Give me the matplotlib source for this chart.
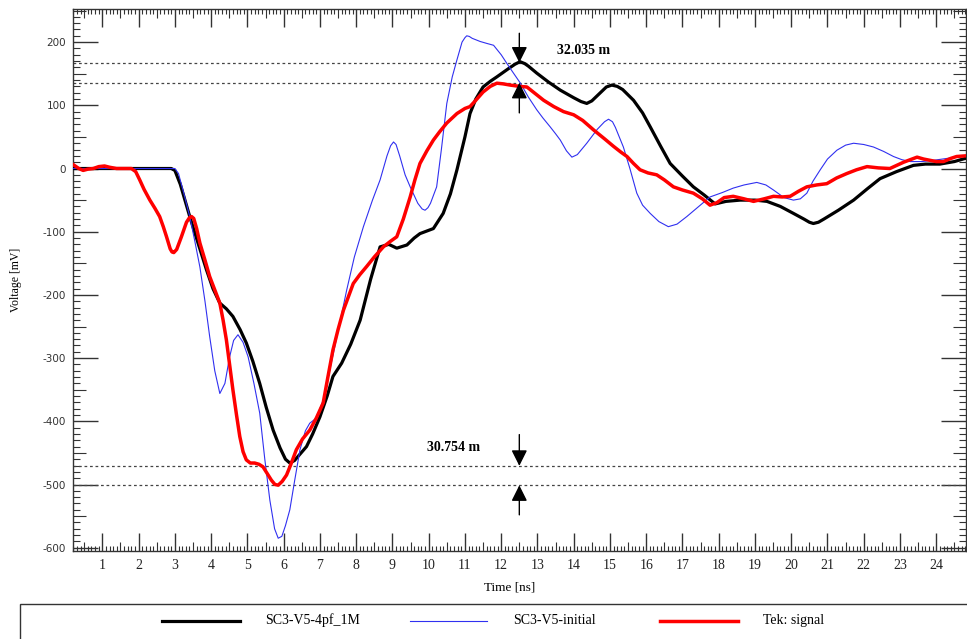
import matplotlib
matplotlib.use("Agg")
import matplotlib.pyplot as plt
from matplotlib.ticker import MultipleLocator
from matplotlib.patches import Rectangle
from matplotlib.lines import Line2D

plt.rcParams["axes.unicode_minus"] = False

# ---------------- data ----------------
t_black = [0.2, 1.0, 2.0, 2.9, 3.0, 3.15, 3.41, 3.65, 3.87, 4.05, 4.24, 4.42, 4.6, 4.8, 4.97,
           5.15, 5.34, 5.52, 5.71, 5.9, 6.05, 6.17, 6.3, 6.45, 6.63, 6.8, 7.0, 7.2, 7.36, 7.6,
           7.85, 8.11, 8.4, 8.66, 8.9, 9.12, 9.4, 9.6, 9.76, 10.13, 10.4, 10.6, 10.78, 11.0,
           11.14, 11.3, 11.5, 11.7, 11.88, 12.2, 12.38, 12.52, 12.65, 12.75, 12.98, 13.3, 13.63,
           14.0, 14.2, 14.36, 14.5, 14.7, 14.9, 15.05, 15.2, 15.35, 15.65, 15.9, 16.11, 16.4,
           16.66, 17.0, 17.3, 17.6, 17.9, 18.2, 18.59, 19.0, 19.33, 19.7, 20.06, 20.35, 20.5,
           20.61, 20.75, 20.9, 21.3, 21.72, 22.1, 22.45, 22.9, 23.37, 23.7, 24.1, 24.5, 24.8]
v_black = [0, 0, 0, 0, -3, -25, -76, -120, -160, -190, -213, -222, -234, -255, -276,
           -305, -340, -378, -414, -442, -460, -466, -462, -452, -440, -420, -393, -360, -329, -308,
           -278, -240, -175, -124, -120, -126, -121, -110, -103, -95, -71, -40, -2, 50,
           87, 110, 129, 138, 145, 158, 165, 169, 166, 162, 151, 137, 124,
           112, 106, 103, 107, 118, 129, 132, 130, 125, 108, 88, 66, 35,
           8, -12, -29, -42, -56, -52, -50, -50, -52, -60, -71, -80, -85,
           -87, -85, -80, -66, -50, -32, -16, -5, 5, 7, 7, 11, 16]

t_blue = [0.2, 1.0, 2.0, 3.0, 3.1, 3.25, 3.41, 3.55, 3.69, 3.83, 3.96, 4.1, 4.24, 4.38, 4.51,
          4.62, 4.74, 4.88, 5.02, 5.18, 5.34, 5.48, 5.62, 5.75, 5.85, 5.95, 6.05, 6.17, 6.3,
          6.45, 6.6, 6.72, 6.9, 7.1, 7.38, 7.74, 7.95, 8.2, 8.45, 8.66, 8.85, 8.95, 9.03, 9.1,
          9.2, 9.35, 9.49, 9.7, 9.82, 9.9, 9.98, 10.05, 10.22, 10.35, 10.5, 10.65, 10.78, 10.92,
          11.0, 11.05, 11.12, 11.2, 11.42, 11.6, 11.79, 12.0, 12.16, 12.35, 12.53, 12.75, 12.98,
          13.15, 13.35, 13.5, 13.63, 13.8, 13.95, 14.1, 14.36, 14.65, 14.85, 14.96, 15.07, 15.15,
          15.37, 15.55, 15.74, 15.9, 16.11, 16.35, 16.61, 16.85, 17.12, 17.45, 17.76, 18.1, 18.4,
          18.7, 19.05, 19.3, 19.51, 19.8, 20.06, 20.25, 20.43, 20.6, 20.8, 21.0, 21.26, 21.5,
          21.72, 22.0, 22.27, 22.55, 22.82, 23.05, 23.28, 23.6, 23.92, 24.3, 24.64, 24.8]
v_blue = [0, 0, 0, 0, -8, -40, -76, -115, -156, -210, -266, -320, -356, -340, -298,
          -272, -263, -275, -298, -340, -387, -460, -525, -570, -585, -582, -565, -540, -495,
          -445, -415, -403, -395, -365, -290, -192, -140, -92, -50, -18, 20, 36, 42, 38,
          20, -10, -29, -55, -64, -66, -62, -55, -29, 30, 103, 145, 172, 200,
          207, 210, 209, 206, 201, 198, 195, 180, 166, 150, 135, 113, 93,
          80, 66, 55, 45, 28, 18, 22, 40, 62, 74, 78, 74, 65,
          34, 0, -39, -58, -71, -84, -92, -88, -76, -60, -45, -38, -31,
          -26, -22, -26, -34, -46, -50, -48, -39, -20, -2, 15, 29, 37,
          40, 38, 34, 27, 19, 14, 11, 11, 13, 16, 19, 20]

t_red = [0.2, 0.35, 0.47, 0.6, 0.75, 0.9, 1.06, 1.2, 1.39, 1.8, 1.92, 2.03, 2.15, 2.31, 2.45,
         2.58, 2.68, 2.77, 2.87, 2.92, 2.97, 3.05, 3.18, 3.32, 3.4, 3.46, 3.52, 3.6, 3.69, 3.83,
         3.96, 4.1, 4.24, 4.33, 4.42, 4.51, 4.6, 4.7, 4.79, 4.88, 4.97, 5.08, 5.2, 5.32, 5.43,
         5.55, 5.66, 5.76, 5.85, 5.96, 6.08, 6.2, 6.35, 6.52, 6.72, 6.9, 7.09, 7.22, 7.36, 7.5,
         7.65, 7.92, 8.1, 8.29, 8.5, 8.75, 8.95, 9.12, 9.3, 9.49, 9.62, 9.76, 9.95, 10.13, 10.3,
         10.5, 10.78, 11.0, 11.14, 11.3, 11.5, 11.7, 11.88, 12.05, 12.25, 12.5, 12.71, 12.95,
         13.17, 13.45, 13.72, 14.0, 14.25, 14.55, 14.85, 15.1, 15.3, 15.47, 15.65, 15.83, 16.05,
         16.29, 16.5, 16.75, 17.0, 17.3, 17.55, 17.76, 17.95, 18.15, 18.4, 18.7, 18.96, 19.25,
         19.51, 19.75, 19.97, 20.2, 20.43, 20.7, 20.98, 21.25, 21.53, 21.8, 22.09, 22.4, 22.72,
         23.1, 23.47, 23.65, 23.83, 24.0, 24.2, 24.4, 24.56, 24.8]
v_red = [6, 0, -3, -1, 0, 3, 4, 2, 0, 0, -5, -18, -33, -50, -63,
         -76, -92, -108, -127, -132, -133, -128, -108, -85, -78, -76, -79, -95, -118, -145,
         -171, -192, -213, -240, -271, -310, -350, -390, -424, -448, -461, -466, -466, -468, -472,
         -483, -493, -500, -501, -495, -485, -468, -445, -428, -414, -395, -371, -330, -287, -255,
         -224, -182, -168, -155, -140, -124, -115, -108, -80, -45, -18, 8, 28, 45, 58,
         72, 87, 95, 98, 108, 121, 130, 135, 134, 132, 130, 129, 118,
         108, 98, 90, 85, 76, 61, 47, 35, 26, 19, 8, -2, -7,
         -10, -18, -29, -34, -39, -48, -58, -54, -46, -44, -48, -52, -48,
         -44, -45, -44, -36, -29, -26, -24, -15, -8, -2, 3, 1, 0,
         10, 18, 15, 13, 11, 11, 16, 19, 20]

series_labels = ["SC3-V5-4pf_1M", "SC3-V5-initial", "Tek: signal"]

# cursor levels (mV) and cursor time (ns)
upper_cursors = [167.6, 135.565]     # difference 32.035
lower_cursors = [-470.5, -501.254]   # difference 30.754
cursor_time = 12.5
upper_label = "32.035 m"
lower_label = "30.754 m"

W, H = 967, 639
fig = plt.figure(figsize=(W / 100, H / 100), dpi=100)
ax = fig.add_axes([73 / W, 1 - 551 / H, (966 - 73) / W, (551 - 9) / H])

ax.plot(t_black, v_black, color="black", lw=2.3, zorder=3, solid_joinstyle="round")
ax.plot(t_blue, v_blue, color="#3030f0", lw=0.8, zorder=4, solid_joinstyle="round")
ax.plot(t_red, v_red, color="#ff0000", lw=2.5, zorder=5, solid_joinstyle="round")

for y in upper_cursors + lower_cursors:
    ax.axhline(y, color="#444444", lw=0.9, ls=(0, (2.2, 2.2)), zorder=2)

arrow_kw = dict(arrowstyle="-|>,head_length=0.6,head_width=0.3", color="black", lw=1.0,
                mutation_scale=16, shrinkA=0, shrinkB=0)
ax.annotate("", xy=(cursor_time, upper_cursors[0]), xytext=(cursor_time, 214), arrowprops=arrow_kw, zorder=6)
ax.annotate("", xy=(cursor_time, upper_cursors[1]), xytext=(cursor_time, 88), arrowprops=arrow_kw, zorder=6)
ax.annotate("", xy=(cursor_time, lower_cursors[0]), xytext=(cursor_time, -421), arrowprops=arrow_kw, zorder=6)
ax.annotate("", xy=(cursor_time, lower_cursors[1]), xytext=(cursor_time, -548), arrowprops=arrow_kw, zorder=6)

ax.text(13.54, 186, upper_label, fontsize=10, fontweight="bold", family="Liberation Serif",
        va="center", ha="left")
ax.text(9.96, -442, lower_label, fontsize=10, fontweight="bold", family="Liberation Serif",
        va="center", ha="left")

ax.set_xlim(0.19, 24.82)
ax.set_ylim(-605.2, 252.4)

ax.xaxis.set_major_locator(MultipleLocator(1))
ax.xaxis.set_minor_locator(MultipleLocator(0.1))
ax.yaxis.set_major_locator(MultipleLocator(100))
ax.yaxis.set_minor_locator(MultipleLocator(10))

tick_col = "#333333"
ax.xaxis.set_tick_params(which="major", direction="in", length=13, width=1, color=tick_col,
                         top=True, bottom=True, pad=6, labelsize=10)
ax.xaxis.set_tick_params(which="minor", direction="in", length=3.6, width=0.8, color=tick_col,
                         top=True, bottom=True)
ax.yaxis.set_tick_params(which="major", direction="in", length=18, width=1, color=tick_col,
                         left=True, right=True, pad=5, labelsize=7.5)
ax.yaxis.set_tick_params(which="minor", direction="in", length=5, width=0.8, color=tick_col,
                         left=True, right=True)

for lab in ax.get_xticklabels():
    lab.set_fontfamily("Liberation Serif")
    lab.set_color("#222222")
for lab in ax.get_yticklabels():
    lab.set_fontfamily("DejaVu Sans")
    lab.set_color("#333333")

# medium ticks at half steps
fig.canvas.draw()
xlocs = ax.xaxis.get_minorticklocs()
for loc, tk in zip(xlocs, ax.xaxis.get_minor_ticks(len(xlocs))):
    if abs(loc * 2 - round(loc * 2)) < 1e-6:
        tk.tick1line.set_markersize(6.5)
        tk.tick2line.set_markersize(6.5)
ylocs = ax.yaxis.get_minorticklocs()
for loc, tk in zip(ylocs, ax.yaxis.get_minor_ticks(len(ylocs))):
    if abs(loc / 50 - round(loc / 50)) < 1e-6:
        tk.tick1line.set_markersize(9.4)
        tk.tick2line.set_markersize(9.4)

for s in ax.spines.values():
    s.set_color("#333333")
    s.set_linewidth(1.0)

fig.text(510 / W, 1 - 587 / H, "Time [ns]", ha="center", va="center",
         family="Liberation Serif", fontsize=9.5)
fig.text(16 / W, 1 - 280 / H, "Voltage [mV]", ha="center", va="center", rotation=90,
         family="Liberation Serif", fontsize=8.5)

# legend box below the axes
fig.add_artist(Rectangle((20 / W, -0.05), 1.0, 0.05 + (639 - 604) / H, transform=fig.transFigure,
                         fill=False, ec="#333333", lw=1.0))
ly = 1 - 620.5 / H
leg_items = [((162, 240), "black", 2.3, 265), ((410, 487), "#3030f0", 0.8, 513), ((660, 738), "#ff0000", 2.5, 763)]
for ((x0, x1), col, lw, tx), lab in zip(leg_items, series_labels):
    fig.add_artist(Line2D([x0 / W, x1 / W], [ly, ly], color=col, lw=lw, transform=fig.transFigure))
    fig.text(tx / W, ly, lab, ha="left", va="center", family="Liberation Serif", fontsize=10)

fig.savefig("out.png", dpi=100)
